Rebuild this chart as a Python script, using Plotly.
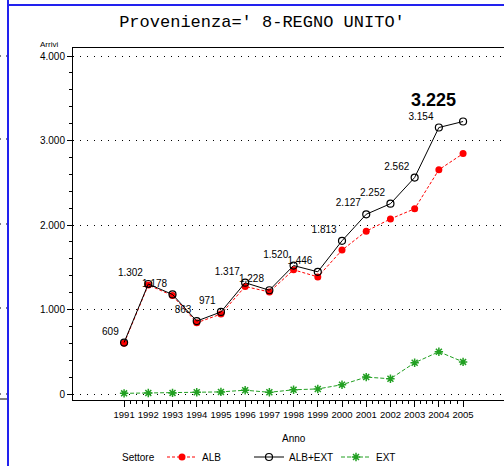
import plotly.graph_objects as go

years = list(range(1991, 2006))
alb = [601, 1290, 1165, 843, 946, 1272, 1208, 1470, 1386, 1703, 1927, 2072, 2192, 2654, 2845]
alb_ext = [609, 1302, 1178, 863, 971, 1317, 1228, 1520, 1446, 1813, 2127, 2252, 2562, 3154, 3225]
ext = [8, 12, 13, 20, 25, 45, 20, 50, 60, 110, 200, 180, 370, 500, 380]
ytick_vals = [0, 1000, 2000, 3000, 4000]
ytick_text = ["0", "1.000", "2.000", "3.000", "4.000"]

W, H = 504, 466
L, R, T, B = 73, 0, 48, 66
PW, PH = W - L - R, H - T - B


def px(x):
    return (x - L) / PW


def py(y):
    return (H - B - y) / PH


def fmt(v):
    return f"{v:,}".replace(",", ".")


TICKF = "Liberation Sans, Arial, sans-serif"
ARIAL = "Liberation Sans, Arial, sans-serif"

labels = [fmt(v) for v in alb_ext[:-1]] + [""]

fig = go.Figure()
fig.add_trace(go.Scatter(
    x=years, y=alb, name="ALB", mode="lines+markers",
    line=dict(color="#ff0000", width=1, dash="3px,2px"),
    marker=dict(symbol="circle", size=7, color="#ff0000"),
))
fig.add_trace(go.Scatter(
    x=years, y=alb_ext, name="ALB+EXT", mode="lines+markers+text",
    line=dict(color="#000000", width=1),
    marker=dict(symbol="circle-open", size=7, color="#000000", line=dict(width=1.2)),
    text=labels, textposition="top left",
    textfont=dict(family=ARIAL, size=10, color="#000000"),
))
fig.add_trace(go.Scatter(
    x=years, y=ext, name="EXT", mode="lines+markers",
    line=dict(color="#22a022", width=1, dash="4px,2px"),
    marker=dict(symbol="asterisk-open", size=7, color="#22a022", line=dict(width=1.5, color="#22a022")),
))

fig.add_annotation(x=years[-1], y=alb_ext[-1], text="<b>" + fmt(alb_ext[-1]) + "</b>",
                   showarrow=False, xshift=-30, yshift=22,
                   font=dict(family=ARIAL, size=18, color="#000000"))
fig.add_annotation(xref="paper", yref="paper", x=px(49), y=py(45), xanchor="center", yanchor="middle",
                   text="Arrivi", showarrow=False, font=dict(family=TICKF, size=8, color="#000000"))
fig.add_annotation(xref="paper", yref="paper", x=px(294), y=py(438), xanchor="center", yanchor="middle",
                   text="Anno", showarrow=False, font=dict(family=TICKF, size=10, color="#000000"))
fig.add_annotation(xref="paper", yref="paper", x=px(138), y=py(457), xanchor="center", yanchor="middle",
                   text="Settore", showarrow=False, font=dict(family=TICKF, size=10, color="#000000"))

blue = "#2222ee"
shapes = [
    dict(type="line", xref="paper", yref="paper", x0=px(8), x1=px(8), y0=py(0), y1=py(H),
         line=dict(color=blue, width=2)),
    dict(type="line", xref="paper", yref="paper", x0=px(8), x1=px(W), y0=py(5), y1=py(5),
         line=dict(color=blue, width=2)),
    dict(type="line", xref="paper", yref="paper", x0=px(0), x1=px(7), y0=py(399), y1=py(399),
         line=dict(color="#000000", width=1)),
]
for yy in [56, 139, 224, 308, 394]:
    shapes.append(dict(type="line", xref="paper", yref="paper", x0=px(0), x1=px(7), y0=py(yy), y1=py(yy),
                       line=dict(color="#000000", width=1, dash="1px,5px")))

minor_x = [y + k / 4 for y in years[:-1] for k in (1, 2, 3)]
minor_y = [v for v in range(200, 4000, 200) if v % 1000 != 0]

fig.update_layout(
    width=W, height=H,
    margin=dict(l=L, r=R, t=T, b=B, autoexpand=False),
    paper_bgcolor="white", plot_bgcolor="white",
    title=dict(text="Provenienza=' 8-REGNO UNITO'", x=262 / W, y=1 - 21 / H,
               xanchor="center", yanchor="middle",
               font=dict(family="Liberation Mono, DejaVu Sans Mono, monospace", size=17, color="#000000")),
    showlegend=True,
    legend=dict(orientation="h", xref="container", yref="container",
                x=162 / W, y=1 - 457 / H, xanchor="left", yanchor="middle",
                font=dict(family=TICKF, size=10, color="#000000"),
                entrywidth=42, entrywidthmode="pixels", bgcolor="rgba(0,0,0,0)"),
    shapes=shapes,
    xaxis=dict(range=[1988.89, 2006.69], tickmode="array", tickvals=years,
               ticktext=[str(y) for y in years], ticks="outside", ticklen=6, tickangle=0,
               tickcolor="#000000", showgrid=False, zeroline=False, automargin=False,
               showline=True, linecolor="#000000", linewidth=1, mirror=True,
               tickfont=dict(family=TICKF, size=9.5, color="#000000"),
               minor=dict(tickmode="array", tickvals=minor_x, ticks="outside", ticklen=3,
                          tickcolor="#000000")),
    yaxis=dict(range=[-71, 4095], tickmode="array", tickvals=ytick_vals, ticktext=ytick_text,
               ticks="outside", ticklen=5, tickcolor="#000000", automargin=False,
               showgrid=True, gridcolor="#000000", griddash="1px,6px", gridwidth=1,
               zeroline=False, showline=True, linecolor="#000000", linewidth=1,
               tickfont=dict(family=TICKF, size=10, color="#000000"),
               minor=dict(tickmode="array", tickvals=minor_y, ticks="outside", ticklen=3,
                          tickcolor="#000000")),
)

fig.write_html("out.html", config={"displayModeBar": False},
               post_script="document.body.style.margin='0';document.body.style.overflow='hidden';")
